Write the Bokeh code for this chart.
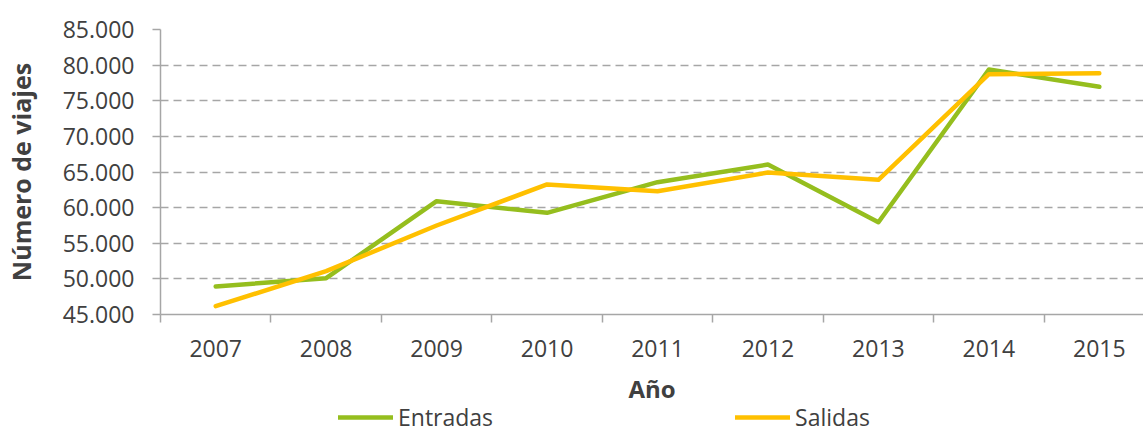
from bokeh.plotting import figure
from bokeh.layouts import column
from bokeh.models import FixedTicker, Legend, LegendItem, Range1d
from bokeh.embed import file_html
from bokeh.resources import INLINE

years = ["2007", "2008", "2009", "2010", "2011", "2012", "2013", "2014", "2015"]
entradas = [48930, 50100, 60900, 59270, 63570, 66050, 57950, 79390, 76960]
salidas = [46170, 51080, 57490, 63250, 62300, 64930, 63900, 78730, 78870]
y_ticks = [45000, 50000, 55000, 60000, 65000, 70000, 75000, 80000, 85000]
y_tick_labels = ["45.000", "50.000", "55.000", "60.000", "65.000", "70.000", "75.000", "80.000", "85.000"]
series_names = ["Entradas", "Salidas"]
series_colors = ["#95BE1E", "#FFC000"]
series_values = [entradas, salidas]

FONT = "Open Sans"
TXT = "#404040"
GRID = "#A6A6A6"
LW = 4.5

xs = [i + 0.5 for i in range(len(years))]

p = figure(width=1143, height=407, output_backend="svg", toolbar_location=None,
           x_range=Range1d(0, 8.9), y_range=Range1d(45000, 85000),
           min_border_left=160, min_border_right=0, min_border_top=29, min_border_bottom=93)
p.outline_line_color = None
p.background_fill_color = "white"

for vals, col in zip(series_values, series_colors):
    p.line(xs, vals, line_color=col, line_width=LW, line_cap="round", line_join="round")

# x axis
xa = p.xaxis[0]
xa.ticker = FixedTicker(ticks=xs, minor_ticks=list(range(len(years) + 1)))
xa.major_label_overrides = {x: y for x, y in zip(xs, years)}
xa.major_tick_line_color = None
xa.minor_tick_out = 8
xa.minor_tick_in = 0
xa.minor_tick_line_color = GRID
xa.minor_tick_line_width = 1.5
xa.axis_line_color = GRID
xa.axis_line_width = 1.5
xa.major_label_text_font = FONT
xa.major_label_text_font_size = "23px"
xa.major_label_text_color = TXT
xa.major_label_standoff = 17
xa.axis_label = "Año"
xa.axis_label_text_font = FONT
xa.axis_label_text_font_style = "bold"
xa.axis_label_text_font_size = "24px"
xa.axis_label_text_color = TXT
xa.axis_label_standoff = 12

# y axis
ya = p.yaxis[0]
ya.ticker = FixedTicker(ticks=y_ticks, minor_ticks=[])
ya.major_label_overrides = {t: l for t, l in zip(y_ticks, y_tick_labels)}
ya.major_tick_out = 8
ya.major_tick_in = 0
ya.major_tick_line_color = GRID
ya.major_tick_line_width = 1.5
ya.axis_line_color = GRID
ya.axis_line_width = 1.5
ya.major_label_text_font = FONT
ya.major_label_text_font_size = "23px"
ya.major_label_text_color = TXT
ya.major_label_standoff = 18
ya.axis_label = "Número de viajes"
ya.axis_label_text_font = FONT
ya.axis_label_text_font_style = "bold"
ya.axis_label_text_font_size = "25px"
ya.axis_label_text_color = TXT
ya.axis_label_standoff = 22

p.xgrid.grid_line_color = None
p.ygrid.grid_line_color = GRID
p.ygrid.grid_line_width = 1.5
p.ygrid.grid_line_dash = "8 5"

# legend strip below the chart (its lines lie outside this strip's ranges)
lf = figure(width=1143, height=21, output_backend="svg", toolbar_location=None,
            x_range=Range1d(0, 1), y_range=Range1d(0, 1),
            x_axis_location=None, y_axis_location=None, min_border=0)
lf.outline_line_color = None
lf.grid.visible = False
items = []
for name, vals, col in zip(series_names, series_values, series_colors):
    r = lf.line(xs, vals, line_color=col, line_width=LW, line_cap="round")
    items.append(LegendItem(label=name, renderers=[r]))
legend = Legend(items=items, orientation="horizontal", location=(178, -5),
                border_line_color=None, background_fill_alpha=0,
                label_text_font=FONT, label_text_font_size="23px", label_text_color=TXT,
                glyph_width=55, glyph_height=20, label_standoff=5, spacing=242,
                padding=0, margin=0)
lf.add_layout(legend, "center")

layout = column(p, lf, spacing=0)
open("out.html", "w").write(file_html(layout, INLINE))
